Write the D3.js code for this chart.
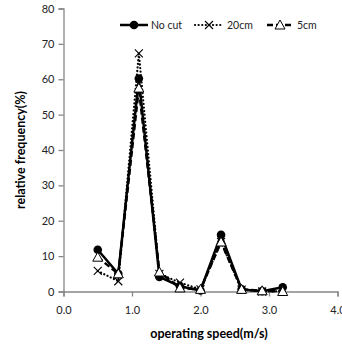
<!DOCTYPE html>
<html><head><meta charset="utf-8">
<script src="https://cdn.jsdelivr.net/npm/d3@7"></script>
<style>body{margin:0;background:#fff}svg{display:block}</style>
</head><body>
<script>
const speeds = [0.5, 0.8, 1.1, 1.4, 1.7, 2.0, 2.3, 2.6, 2.9, 3.2];
const noCut = [11.8, 5.0, 60.2, 4.1, 1.5, 0.3, 16.0, 0.6, 0.1, 1.2];
const cm20  = [5.8, 2.9, 67.3, 5.0, 2.5, 0.6, 14.0, 0.5, 0.0, 0.1];
const cm5   = [9.7, 5.0, 57.5, 5.5, 1.0, 0.6, 14.0, 0.6, 0.2, 0.0];
const seriesNames = ["No cut", "20cm", "5cm"];
const xTicks = [0, 1, 2, 3, 4];
const yTicks = [0, 10, 20, 30, 40, 50, 60, 70, 80];

const W = 342, H = 344;
const svg = d3.select("body").append("svg").attr("width", W).attr("height", H);
const x = d3.scaleLinear().domain([0, 4]).range([63.5, 337.5]);
const y = d3.scaleLinear().domain([0, 80]).range([291.5, 8.5]);
const font = "Lato, 'Open Sans', sans-serif";

// axes
const yAx = svg.append("g").attr("transform", "translate(63.5,0)")
  .call(d3.axisLeft(y).tickValues(yTicks).tickFormat(d3.format("d")).tickSize(5).tickPadding(4));
const xAx = svg.append("g").attr("transform", "translate(0,291.5)")
  .call(d3.axisBottom(x).tickValues(xTicks).tickFormat(d3.format(".1f")).tickSize(5).tickPadding(8));
[yAx, xAx].forEach(g => {
  g.select(".domain").attr("stroke", "#868686").attr("stroke-width", 1.3);
  g.selectAll(".tick line").attr("stroke", "#868686").attr("stroke-width", 1.3);
  g.selectAll("text").attr("font-family", font).attr("font-size", 11).attr("fill", "#222");
});
xAx.selectAll("text").attr("dy", "0.9em");

// axis titles
svg.append("text").attr("x", 209).attr("y", 338).attr("text-anchor", "middle")
  .attr("font-family", font).attr("font-weight", "bold").attr("font-size", 12.5)
  .text("operating speed(m/s)");
svg.append("text").attr("transform", "translate(25,150) rotate(-90)").attr("text-anchor", "middle")
  .attr("font-family", font).attr("font-weight", "bold").attr("font-size", 12.5)
  .text("relative frequency(%)");

const series = [
  {name: seriesNames[0], vals: noCut, dash: null, marker: "circle"},
  {name: seriesNames[1], vals: cm20, dash: "1,3", marker: "x"},
  {name: seriesNames[2], vals: cm5, dash: "6,3", marker: "tri"}
];
const line = d3.line().x(d => x(d[0])).y(d => y(d[1]));

function drawMarker(g, type, cx, cy) {
  if (type === "circle") {
    g.append("circle").attr("cx", cx).attr("cy", cy).attr("r", 4.3).attr("fill", "#000");
  } else if (type === "x") {
    const s = 4;
    g.append("path").attr("d", `M${cx-s},${cy-s}L${cx+s},${cy+s}M${cx-s},${cy+s}L${cx+s},${cy-s}`)
      .attr("stroke", "#000").attr("stroke-width", 1.1).attr("fill", "none");
  } else {
    const s = 5;
    g.append("path").attr("d", `M${cx},${cy-s}L${cx+s},${cy+s*0.8}L${cx-s},${cy+s*0.8}Z`)
      .attr("stroke", "#000").attr("stroke-width", 1).attr("fill", "#fff");
  }
}

series.forEach(s => {
  const pts = speeds.map((sp, i) => [sp, s.vals[i]]);
  const p = svg.append("path").attr("d", line(pts)).attr("fill", "none")
    .attr("stroke", "#000").attr("stroke-width", 2.5);
  if (s.dash) p.attr("stroke-dasharray", s.dash);
  if (s.marker === "x") p.attr("stroke-linecap", "round").attr("stroke-width", 2.2).attr("stroke-dasharray", "0.1,3.5");
  const g = svg.append("g");
  pts.forEach(d => drawMarker(g, s.marker, x(d[0]), y(d[1])));
});

// legend
const legendItems = [
  {x0: 120, x1: 148, tx: 151},
  {x0: 195, x1: 223, tx: 227},
  {x0: 267, x1: 293, tx: 297}
];
series.forEach((s, i) => {
  const L = legendItems[i], ly = 25;
  const p = svg.append("line").attr("x1", L.x0).attr("x2", L.x1).attr("y1", ly).attr("y2", ly)
    .attr("stroke", "#000").attr("stroke-width", 2.5);
  if (s.dash) p.attr("stroke-dasharray", s.dash);
  if (s.marker === "x") p.attr("stroke-linecap", "round").attr("stroke-width", 2.2).attr("stroke-dasharray", "0.1,3.5");
  drawMarker(svg.append("g"), s.marker, (L.x0 + L.x1) / 2, ly);
  svg.append("text").attr("x", L.tx).attr("y", ly).attr("dy", "0.35em")
    .attr("font-family", font).attr("font-size", 10.5).attr("fill", "#222").text(s.name);
});
</script>
</body></html>
